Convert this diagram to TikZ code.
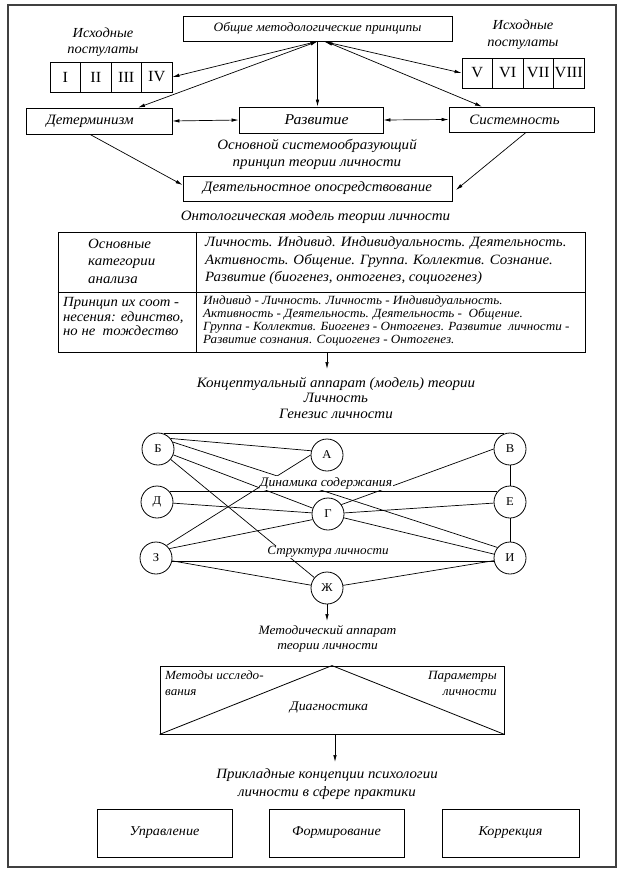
\documentclass[tikz,border=0pt]{standalone}
\usepackage{fontspec}
\setmainfont{Liberation Serif}[FakeStretch=1.05]
\usetikzlibrary{arrows.meta,calc,backgrounds}
\newcommand{\fs}[2]{\fontsize{#1}{#2}\selectfont}
\begin{document}
\begin{tikzpicture}[x=1pt,y=-1pt,
  every node/.style={font=\fs{14.3}{16}\itshape, inner sep=0pt},
  bx/.style n args={2}{draw, line width=0.8pt, minimum width=#1, minimum height=#2},
  rc/.style={draw, line width=0.8pt, minimum width=30.5, minimum height=30, font=\fs{15.5}{18}\upshape},
  cn/.style={circle, draw, line width=0.8pt, minimum size=32, fill=white, font=\fs{12}{14}\upshape},
  con/.style={line width=0.7pt},
  arr/.style={con, -{Latex[length=7pt,width=3.5pt]}},
  darr/.style={con, {Latex[length=7pt,width=3.5pt]}-{Latex[length=7pt,width=3.5pt]}},
  glbl/.style={fill=white, inner sep=1pt, font=\fs{13}{15}\itshape}
]
\useasboundingbox (0,0) rectangle (629,881);
\begin{pgfonlayer}{background}
\fill[white] (0,0) rectangle (629,881);
\end{pgfonlayer}
\draw[line width=1.3pt, black!75] (8,5) rectangle (616,867);

% top part
\node[bx={269}{25}, font=\fs{12.8}{16}\itshape] (top) at (317.5,28.5) {Общие методологические принципы};
\node[align=center, font=\fs{13.8}{16}\itshape] (ish1) at (103,42) {Исходные\\постулаты};
\node[align=center, font=\fs{13.8}{17}\itshape] (ish2) at (523,34.5) {Исходные\\постулаты};
\node[rc] (r1) at (65.25,77) {I};
\node[rc] (r2) at (95.75,77) {II};
\node[rc] (r3) at (126.25,77) {III};
\node[rc] (r4) at (156.75,77) {IV};
\node[rc] (r5) at (477.25,73) {V};
\node[rc] (r6) at (507.75,73) {VI};
\node[rc] (r7) at (538.25,73) {VII};
\node[rc] (r8) at (568.75,73) {VIII};
\node[bx={146}{26}] (det) at (99,121) {Детерминизм\hspace*{18pt}};
\node[bx={144}{26}, font=\fs{15}{16}\itshape] (ras) at (311,120) {\hspace*{11pt}Развитие};
\node[bx={145}{25}] (sis) at (521.5,119.5) {Системность\hspace*{14pt}};
\node[align=center, font=\fs{14.3}{17}\itshape] (osn) at (317,154.5) {Основной системообразующий\\принцип теории личности};
\node[bx={269}{25}] (dey) at (317.5,188.5) {Деятельностное опосредствование};
\node (ont) at (315.5,217) {Онтологическая модель теории личности};

\draw[darr] (top.south) -- (r4.east);
\draw[darr] (top.south) -- ([xshift=39pt]det.north);
\draw[arr] (top.south) -- (top.south |- ras.north);
\draw[darr] ([xshift=6pt]top.south) -- (r5.west);
\draw[darr] ([xshift=8pt]top.south) -- ([xshift=-39.5pt]sis.north);
\draw[darr] (det.east) -- (ras.west);
\draw[darr] (ras.east) -- (sis.west);
\draw[arr] ([xshift=-9pt]det.south) -- ([yshift=3.5pt]dey.west);
\draw[arr] ([xshift=4.5pt]sis.south) -- ([xshift=3.5pt,yshift=-1.5pt]dey.east);

% table
\node[draw, line width=0.8pt, minimum width=527, minimum height=120] (tab) at (321.5,292) {};
\draw[line width=0.8pt] (tab.west |- 0,292) -- (tab.east |- 0,292);
\draw[line width=0.8pt] (196,0 |- tab.north) -- (196,0 |- tab.south);
\node[anchor=west, align=left, font=\fs{14.2}{17.5}\itshape] (c1) at (88,261) {Основные\\категории\\анализа};
\node[anchor=west, align=left, font=\fs{14.2}{17.5}\itshape] (c2) at (205,261) {Личность. Индивид. Индивидуальность. Деятельность.\\Активность. Общение. Группа. Коллектив. Сознание.\\Развитие (биогенез, онтогенез, социогенез)};
\node[anchor=west, align=left, font=\fs{14}{14.5}\itshape] (c3) at (63,316.5) {Принцип их соот -\\несения: единство,\\но не\ \ тождество};
\node[anchor=west, align=left, font=\fs{12.5}{13}\itshape] (c4) at (203,320.5) {Индивид - Личность. Личность - Индивидуальность.\\Активность - Деятельность. Деятельность -\ \ Общение.\\Группа - Коллектив. Биогенез - Онтогенез. Развитие\ \ личности -\\Развитие сознания. Социогенез - Онтогенез.};
\coordinate (tabout) at (327,352);
\coordinate (tabend) at (327,369);
\draw[arr] (tabout) -- (tabend);
\node[align=center, font=\fs{14.3}{15.5}\itshape] (konc) at (336,397.5) {Концептуальный аппарат (модель) теории\\Личность\\Генезис личности};

% graph
\node[cn] (B) at (158,449) {Б};
\node[cn] (A) at (327,455) {А};
\node[cn] (V) at (510,449) {В};
\node[cn] (D) at (157,502) {Д};
\node[cn] (G) at (328,514) {Г};
\node[cn] (E) at (510,502) {Е};
\node[cn] (Z) at (156,558) {З};
\node[cn] (I) at (510,558) {И};
\node[cn] (ZH) at (327,588) {Ж};
\node[glbl] (din) at (326,483) {Динамика содержания};
\node[glbl, font=\fs{12.5}{15}\itshape] (str) at (328,552) {Структура личности};
\begin{pgfonlayer}{background}
\draw[con] (B.70) -- (V.110);
\draw[con] (B.40) -- (A.165);
\draw[con] (B) -- (G);
\draw[con] (B.25) -- (I.140);
\draw[con] (B) -- (ZH);
\draw[con] (A.180) -- (Z.50);
\draw[con] (V.180) -- (G.35);
\draw[con] (D.40) -- (E.140);
\draw[con] (D) -- (G);
\draw[con] (G) -- (E);
\draw[con] (G) -- (I);
\draw[con] (V) -- (E);
\draw[con] (E) -- (I);
\draw[con] (Z.35) -- (G.200);
\draw[con] (Z.-10) -- (I.190);
\draw[con] (Z) -- (ZH);
\draw[con] (ZH) -- (I);
\end{pgfonlayer}
\coordinate (zhend) at (327,621);
\draw[arr] (ZH.south) -- (zhend);
\node[align=center, font=\fs{12.8}{15}\itshape] (meta) at (327.5,638.5) {Методический аппарат\\теории личности};

% diagnostics
\node[draw, line width=0.8pt, minimum width=344, minimum height=68] (diag) at (332,700) {};
\draw[line width=0.8pt] (diag.south west) -- (diag.north) -- (diag.south east);
\node[anchor=west, align=left, font=\fs{12.5}{16}\itshape] (met) at (165,683) {Методы исследо-\\вания};
\node[anchor=east, align=right, font=\fs{12.6}{16}\itshape] (par) at (497,683) {Параметры\\личности};
\node[font=\fs{13.2}{16}\itshape] (dg) at (329,708) {Диагностика};
\coordinate (dgend) at (335,762);
\draw[arr] ([xshift=3pt]diag.south) -- (dgend);
\node[align=center, font=\fs{14.2}{18}\itshape] (prik) at (327,784) {Прикладные концепции психологии\\личности в сфере практики};
\node[bx={135}{48}, font=\fs{13.5}{16}\itshape] (upr) at (164.5,833) {Управление};
\node[bx={135}{48}, font=\fs{13.5}{16}\itshape] (form) at (336.5,833) {Формирование};
\node[bx={137}{48}, font=\fs{13.5}{16}\itshape] (kor) at (510.5,833) {Коррекция};
\end{tikzpicture}
\end{document}
